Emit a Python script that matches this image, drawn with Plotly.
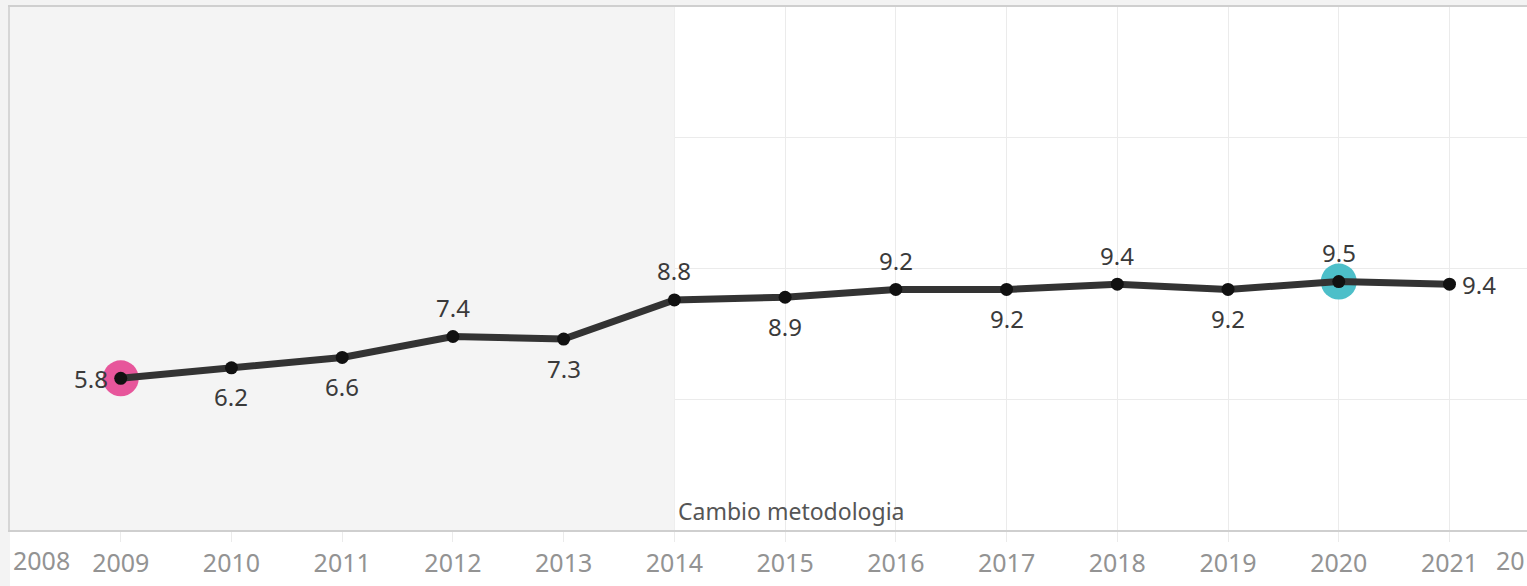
import plotly.graph_objects as go

years = [2009, 2010, 2011, 2012, 2013, 2014, 2015, 2016, 2017, 2018, 2019, 2020, 2021]
values = [5.8, 6.2, 6.6, 7.4, 7.3, 8.8, 8.9, 9.2, 9.2, 9.4, 9.2, 9.5, 9.4]
label_pos = ["left", "below", "below", "above", "below", "above", "below",
             "above", "below", "above", "below", "above", "right"]
highlight_years = [2009, 2020]
highlight_values = [5.8, 9.5]
highlight_colors = ["#e7569b", "#4dbfc9"]
tick_years = list(range(2009, 2022))
tick_labels = [str(y) for y in tick_years]
method_change_year = 2014
method_change_text = "Cambio metodologia"

fig = go.Figure()

# highlight circles
fig.add_trace(go.Scatter(
    x=highlight_years, y=highlight_values, mode="markers",
    marker=dict(size=36, color=highlight_colors, line=dict(width=0)),
    hoverinfo="skip", showlegend=False))

# main line
fig.add_trace(go.Scatter(
    x=years, y=values, mode="lines+markers",
    line=dict(color="#333333", width=7),
    marker=dict(size=13, color="#111111"),
    showlegend=False))

annotations = []
for x, v, p in zip(years, values, label_pos):
    a = dict(x=x, y=v, xref="x", yref="y", text=f"{v:.1f}", showarrow=False,
             font=dict(family="Noto Sans", size=24, color="#3a3a3a"))
    if p == "above":
        a.update(yanchor="middle", xanchor="center", yshift=29)
    elif p == "below":
        a.update(yanchor="middle", xanchor="center", yshift=-29)
    elif p == "left":
        a.update(yanchor="middle", xanchor="right", xshift=-11)
    else:
        a.update(yanchor="middle", xanchor="left", xshift=11)
    annotations.append(a)

annotations.append(dict(x=method_change_year, y=0, xref="x", yref="y",
                        text=method_change_text, showarrow=False,
                        xanchor="left", yanchor="bottom", xshift=2, yshift=1,
                        font=dict(family="Noto Sans", size=23, color="#555555")))
# edge year labels (shifted inward as in the original)
annotations.append(dict(x=0, y=0, xref="paper", yref="paper", text="2008",
                        showarrow=False, xanchor="left", yanchor="top",
                        xshift=1, yshift=-11,
                        font=dict(family="Noto Sans", size=25, color="#939393")))
annotations.append(dict(x=1, y=0, xref="paper", yref="paper", text="20",
                        showarrow=False, xanchor="right", yanchor="top",
                        xshift=0, yshift=-11,
                        font=dict(family="Noto Sans", size=25, color="#939393")))

shapes = [
    # pre-methodology shaded area
    dict(type="rect", xref="x", yref="y", x0=2008, x1=method_change_year, y0=0, y1=20,
         fillcolor="#f4f4f4", line=dict(width=0), layer="between"),
    # outer gray strips (left and top)
    dict(type="rect", xref="paper", yref="paper", x0=-10/1517, x1=0, y0=-1, y1=1.2,
         fillcolor="#f3f3f3", line=dict(width=0), layer="below"),
    dict(type="rect", xref="paper", yref="paper", x0=-0.01, x1=1.01, y0=1, y1=1 + 7/523,
         fillcolor="#f3f3f3", line=dict(width=0), layer="below"),
]

fig.update_layout(
    width=1527, height=586,
    margin=dict(l=10, r=0, t=7, b=56),
    paper_bgcolor="#ffffff", plot_bgcolor="#ffffff",
    annotations=annotations, shapes=shapes,
    font=dict(family="Noto Sans"),
    hovermode="closest",
)
fig.update_xaxes(
    range=[2008, 2021.7], tickvals=tick_years, ticktext=tick_labels,
    showgrid=True, gridcolor="#ebebeb", gridwidth=1,
    showline=True, linecolor="#cfcfcf", linewidth=2, mirror=True,
    ticks="outside", ticklen=10, tickcolor="#ebebeb",
    tickfont=dict(family="Noto Sans", size=25, color="#939393"),
    zeroline=False, fixedrange=True,
)
fig.update_yaxes(
    range=[0, 20], tickvals=[5, 10, 15], showticklabels=False,
    showgrid=True, gridcolor="#ebebeb", gridwidth=1,
    showline=True, linecolor="#d6d6d6", linewidth=2,
    zeroline=False, ticks="", fixedrange=True,
)

fig.write_html("out.html", config={"displayModeBar": False},
               post_script="document.body.style.margin='0';")
